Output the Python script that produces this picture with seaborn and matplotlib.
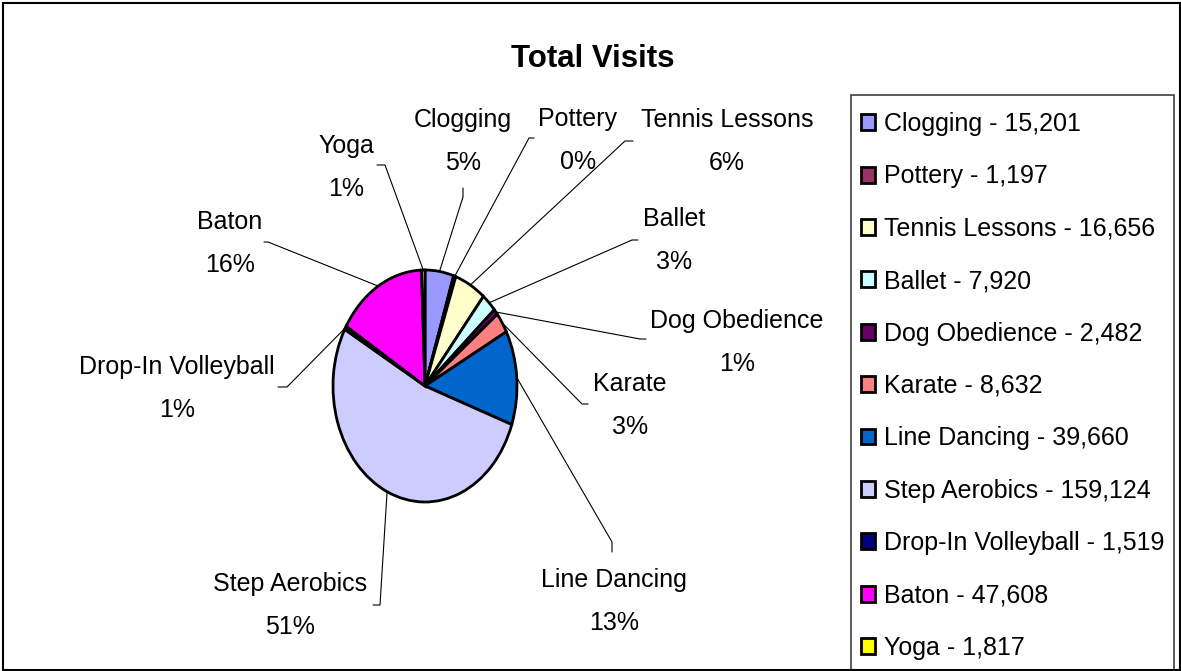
import matplotlib
matplotlib.use("Agg")
import matplotlib.pyplot as plt
from matplotlib import font_manager
from matplotlib.lines import Line2D
from matplotlib.patches import Rectangle
import numpy as np
import seaborn as sns

# Data
activities = ["Clogging", "Pottery", "Tennis Lessons", "Ballet", "Dog Obedience", "Karate",
              "Line Dancing", "Step Aerobics", "Drop-In Volleyball", "Baton", "Yoga"]
visits = [15201, 1197, 16656, 7920, 2482, 8632, 39660, 159124, 1519, 47608, 1817]
pct_labels = ["5%", "0%", "6%", "3%", "1%", "3%", "13%", "51%", "1%", "16%", "1%"]
colors = ["#9999FF", "#993366", "#FFFFCC", "#CCFFFF", "#660066", "#FF8080",
          "#0066CC", "#CCCCFF", "#000080", "#FF00FF", "#FFFF00"]

# Label layout (pixels from top-left): text centre x / name baseline, leader elbow, leader tick end
label_pos = [(463, 127), (578, 126), (727, 127), (674, 226), (737, 328), (630, 391),
             (614, 587), (290, 591), (177, 374), (230, 229), (346, 153)]
elbows = [(463, 197), (529, 138), (625, 141), (632, 240), (640, 339), (582, 404),
          (612, 542), (380, 605), (287, 387), (268, 242), (385, 165)]
ticks = [(463, 188), (534, 138), (633, 141), (638, 240), (646, 339), (588, 404),
         (612, 552), (373, 605), (278, 387), (264, 242), (377, 165)]

sns.set_theme(style="white")

names = {f.name for f in font_manager.fontManager.ttflist}
if "Liberation Sans Narrow" in names:
    fam, fs, tfs, lspace = "Liberation Sans Narrow", 21.5, 27, 0.79
else:
    fam, fs, tfs, lspace = "Liberation Sans", 18, 22.5, 1.135
plt.rcParams["font.family"] = [fam, "DejaVu Sans"]
plt.rcParams["text.color"] = "black"

W, H = 1181, 671
fig = plt.figure(figsize=(W / 100, H / 100), dpi=100)
fig.patch.set_facecolor("white")


def fx(x):
    return x / W


def fy(y):
    return 1 - y / H


# Pie (stretched vertically like the original)
ax = fig.add_axes([fx(333), fy(502), 184 / W, 232 / H])
wedges, _ = ax.pie(visits, colors=colors, startangle=90, counterclock=False,
                   wedgeprops=dict(edgecolor="black", linewidth=2.0))
ax.set_aspect("auto")
ax.set_xlim(-1, 1)
ax.set_ylim(-1, 1)
for w in wedges:
    w.set_clip_on(False)

# Leader lines and labels
to_fig = fig.transFigure.inverted()
for w, name, pct, (lx, ly), (ex, ey), (tx, ty) in zip(wedges, activities, pct_labels,
                                                        label_pos, elbows, ticks):
    mid = np.deg2rad((w.theta1 + w.theta2) / 2)
    sx, sy = to_fig.transform(ax.transData.transform((np.cos(mid), np.sin(mid))))
    fig.add_artist(Line2D([sx, fx(ex), fx(tx)], [sy, fy(ey), fy(ty)],
                          transform=fig.transFigure, color="black", lw=0.8))
    fig.text(fx(lx), fy(ly), name, ha="center", va="baseline", fontsize=fs)
    fig.text(fx(lx), fy(ly + 43), pct, ha="center", va="baseline", fontsize=fs)

# Title
fig.text(fx(593), fy(67), "Total Visits", ha="center", va="baseline",
         fontsize=tfs, fontweight="bold")

# Legend (frame drawn separately)
leg_labels = [f"{a} - {v:,}" for a, v in zip(activities, visits)]
leg = fig.legend(wedges, leg_labels, loc="upper left",
                 bbox_to_anchor=(fx(861), fy(112)), borderaxespad=0, borderpad=0,
                 fontsize=fs, frameon=False, labelcolor="black",
                 handlelength=0.55, handleheight=0.6,
                 handletextpad=0.35, labelspacing=lspace)
fig.add_artist(Rectangle((fx(851), fy(670)), (1174 - 851) / W, (670 - 95) / H,
                         transform=fig.transFigure, fill=False, edgecolor="#404040", lw=1.2))

# Outer chart border
fig.add_artist(Rectangle((fx(3), fy(670)), (1180 - 3) / W, (670 - 3) / H,
                         transform=fig.transFigure, fill=False, edgecolor="black", lw=1.5))

fig.savefig("out.png", dpi=100)
